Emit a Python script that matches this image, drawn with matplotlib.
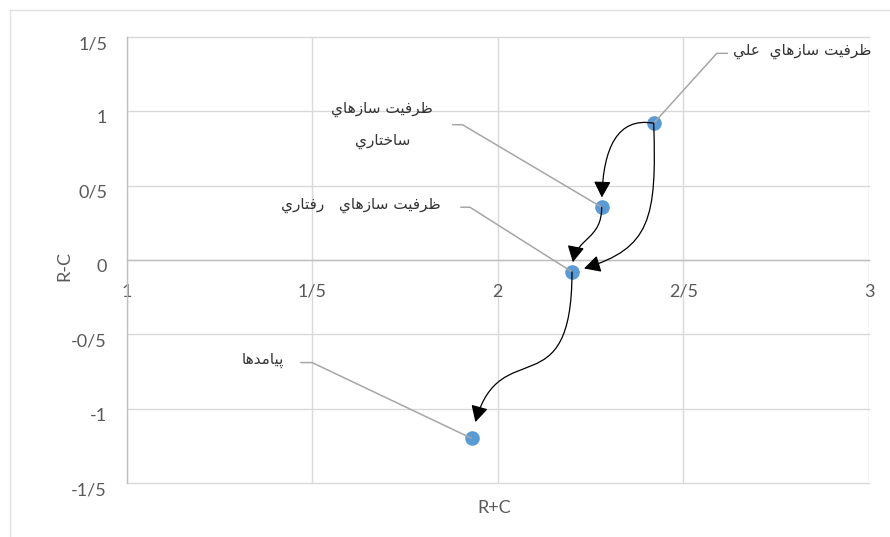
import matplotlib
matplotlib.use("Agg")
import matplotlib.pyplot as plt
import matplotlib.transforms as mtransforms
import numpy as np
from matplotlib.lines import Line2D
from matplotlib.patches import ConnectionStyle
from matplotlib.path import Path
from matplotlib.ticker import FuncFormatter

plt.rcParams['font.family'] = ['Lato', 'DejaVu Sans']

# data
labels = ['ظرفیت سازهاي  علي', 'ظرفیت سازهاي\nساختاري',
          'ظرفیت سازهاي   رفتاري', 'پیامدها']
r_plus_c = [2.42, 2.28, 2.20, 1.93]
r_minus_c = [0.92, 0.355, -0.08, -1.20]
x_ticks = [1, 1.5, 2, 2.5, 3]
y_ticks = [-1.5, -1, -0.5, 0, 0.5, 1, 1.5]

# curved arrows between points: (from, to, angleA, angleB, armA, armB, gap)
links = [
    (0, 1, 170, -90, 0.4, 0.55, 7),
    (0, 2, -88, -165, 0.6, 0.47, 9),
    (1, 2, -90, -90, 0.5, 0.5, 7),
    (2, 3, -90, -100, 0.75, 0.6, 12),
]

# label layout: leader elbow, end of short stub, text anchor and alignment
elbows = [(2.59, 1.39), (1.905, 0.91), (1.925, 0.355), (1.50, -0.69)]
stub_ends = [2.62, 1.877, 1.899, 1.468]
text_pos = [(2.635, 1.40, 'left'), (1.826, 0.905, 'right'),
            (1.845, 0.365, 'right'), (1.425, -0.675, 'right')]

# Arabic joining forms: isolated, final (, initial, medial)
FORMS = {
    'ا': (0xFE8D, 0xFE8E),
    'ت': (0xFE95, 0xFE96, 0xFE97, 0xFE98),
    'خ': (0xFEA5, 0xFEA6, 0xFEA7, 0xFEA8),
    'د': (0xFEA9, 0xFEAA),
    'ر': (0xFEAD, 0xFEAE),
    'ز': (0xFEAF, 0xFEB0),
    'س': (0xFEB1, 0xFEB2, 0xFEB3, 0xFEB4),
    'ظ': (0xFEC5, 0xFEC6, 0xFEC7, 0xFEC8),
    'ع': (0xFEC9, 0xFECA, 0xFECB, 0xFECC),
    'ف': (0xFED1, 0xFED2, 0xFED3, 0xFED4),
    'ل': (0xFEDD, 0xFEDE, 0xFEDF, 0xFEE0),
    'م': (0xFEE1, 0xFEE2, 0xFEE3, 0xFEE4),
    'ه': (0xFEE9, 0xFEEA, 0xFEEB, 0xFEEC),
    'ي': (0xFEF1, 0xFEF2, 0xFEF3, 0xFEF4),
    'ی': (0xFBFC, 0xFBFD, 0xFBFE, 0xFBFF),
    'پ': (0xFB56, 0xFB57, 0xFB58, 0xFB59),
}


def shape_line(text):
	"""Pick joined letter forms and reverse, since matplotlib lays text out LTR."""
	out = []
	for i, ch in enumerate(text):
		forms = FORMS.get(ch)
		if forms is None:
			out.append(ch)
			continue
		prev = text[i - 1] if i > 0 else ''
		nxt = text[i + 1] if i + 1 < len(text) else ''
		join_prev = len(FORMS.get(prev, ())) == 4
		join_next = len(forms) == 4 and nxt in FORMS
		if join_prev and join_next:
			out.append(chr(forms[3]))
		elif join_prev:
			out.append(chr(forms[1]))
		elif join_next:
			out.append(chr(forms[2]))
		else:
			out.append(chr(forms[0]))
	return ''.join(out)[::-1]


def shape(text):
	return '\n'.join(shape_line(line) for line in text.split('\n'))


class Hermite(ConnectionStyle._Base):
	"""Cubic curve leaving posA at angleA and arriving at posB heading angleB."""

	def __init__(self, angleA, angleB, armA, armB):
		self.angleA, self.angleB = angleA, angleB
		self.armA, self.armB = armA, armB

	def connect(self, posA, posB):
		(xa, ya), (xb, yb) = posA, posB
		d = np.hypot(xb - xa, yb - ya)
		ta, tb = np.radians(self.angleA), np.radians(self.angleB)
		c1 = (xa + self.armA * d * np.cos(ta), ya + self.armA * d * np.sin(ta))
		c2 = (xb - self.armB * d * np.cos(tb), yb - self.armB * d * np.sin(tb))
		return Path([(xa, ya), c1, c2, (xb, yb)],
			[Path.MOVETO, Path.CURVE4, Path.CURVE4, Path.CURVE4])


grid_c = '#d9d9d9'
axis_c = '#bfbfbf'
tick_c = '#595959'

fig = plt.figure(figsize=(8.9, 5.37), dpi=100)
ax = fig.add_axes([126.5 / 890, 1 - 483 / 537, (869 - 126.5) / 890, (483 - 37) / 537])

ax.set_xlim(1, 3)
ax.set_ylim(-1.5, 1.5)
ax.set_xticks(x_ticks)
ax.set_yticks(y_ticks)
fmt = FuncFormatter(lambda v, p: f'{v:g}'.replace('.', '/'))
ax.xaxis.set_major_formatter(fmt)
ax.yaxis.set_major_formatter(fmt)
ax.grid(True, color=grid_c, lw=1.0)
for line in ax.get_xgridlines() + ax.get_ygridlines():
	line.set_clip_on(False)
ax.set_axisbelow(True)

for side in ['top', 'right']:
	ax.spines[side].set_visible(False)
ax.spines['bottom'].set_position(('data', 0))
ax.spines['bottom'].set_color(axis_c)
ax.spines['left'].set_color(axis_c)
ax.spines['bottom'].set_linewidth(1.0)
ax.spines['left'].set_linewidth(1.0)
ax.tick_params(length=0, labelsize=13, labelcolor=tick_c)
ax.tick_params(axis='x', pad=17)
ax.tick_params(axis='y', pad=14)
shift = mtransforms.ScaledTranslation(0, -4 / 72, fig.dpi_scale_trans)
for lbl in ax.get_yticklabels():
	lbl.set_transform(lbl.get_transform() + shift)

ax.plot(r_plus_c, r_minus_c, 'o', color='#5b9bd5', ms=9.5, zorder=3)

# leader lines and labels
for i in range(len(labels)):
	ex, ey = elbows[i]
	ax.plot([r_plus_c[i], ex, stub_ends[i]], [r_minus_c[i], ey, ey],
		color='#a6a6a6', lw=1.1, zorder=4, solid_capstyle='butt')
	tx, ty, ha = text_pos[i]
	ax.text(tx, ty, shape(labels[i]), ha=ha, va='center', fontsize=11,
		family='DejaVu Sans', color='#333333', linespacing=2.3,
		multialignment='center')

for a, b, angA, angB, armA, armB, gap in links:
	ax.annotate('', xy=(r_plus_c[b], r_minus_c[b]),
		xytext=(r_plus_c[a], r_minus_c[a]),
		arrowprops=dict(arrowstyle='-|>,head_length=0.38,head_width=0.2',
			mutation_scale=26, color='black', lw=0.9, shrinkA=0, shrinkB=gap,
			connectionstyle=Hermite(angA, angB, armA, armB)), zorder=5)

fig.text(494 / 890, 1 - 508 / 537, 'R+C', ha='center', va='center',
	fontsize=13, color=tick_c)
fig.text(64 / 890, 1 - 266 / 537, 'R-C', ha='center', va='center',
	fontsize=13, color=tick_c, rotation=90)

# light frame of the chart area
fig.add_artist(Line2D([10 / 890, 1], [1 - 9.5 / 537] * 2, color='#e0e0e0', lw=1))
fig.add_artist(Line2D([10 / 890] * 2, [0, 1 - 9.5 / 537], color='#e0e0e0', lw=1))

plt.savefig('out.png', dpi=100)
